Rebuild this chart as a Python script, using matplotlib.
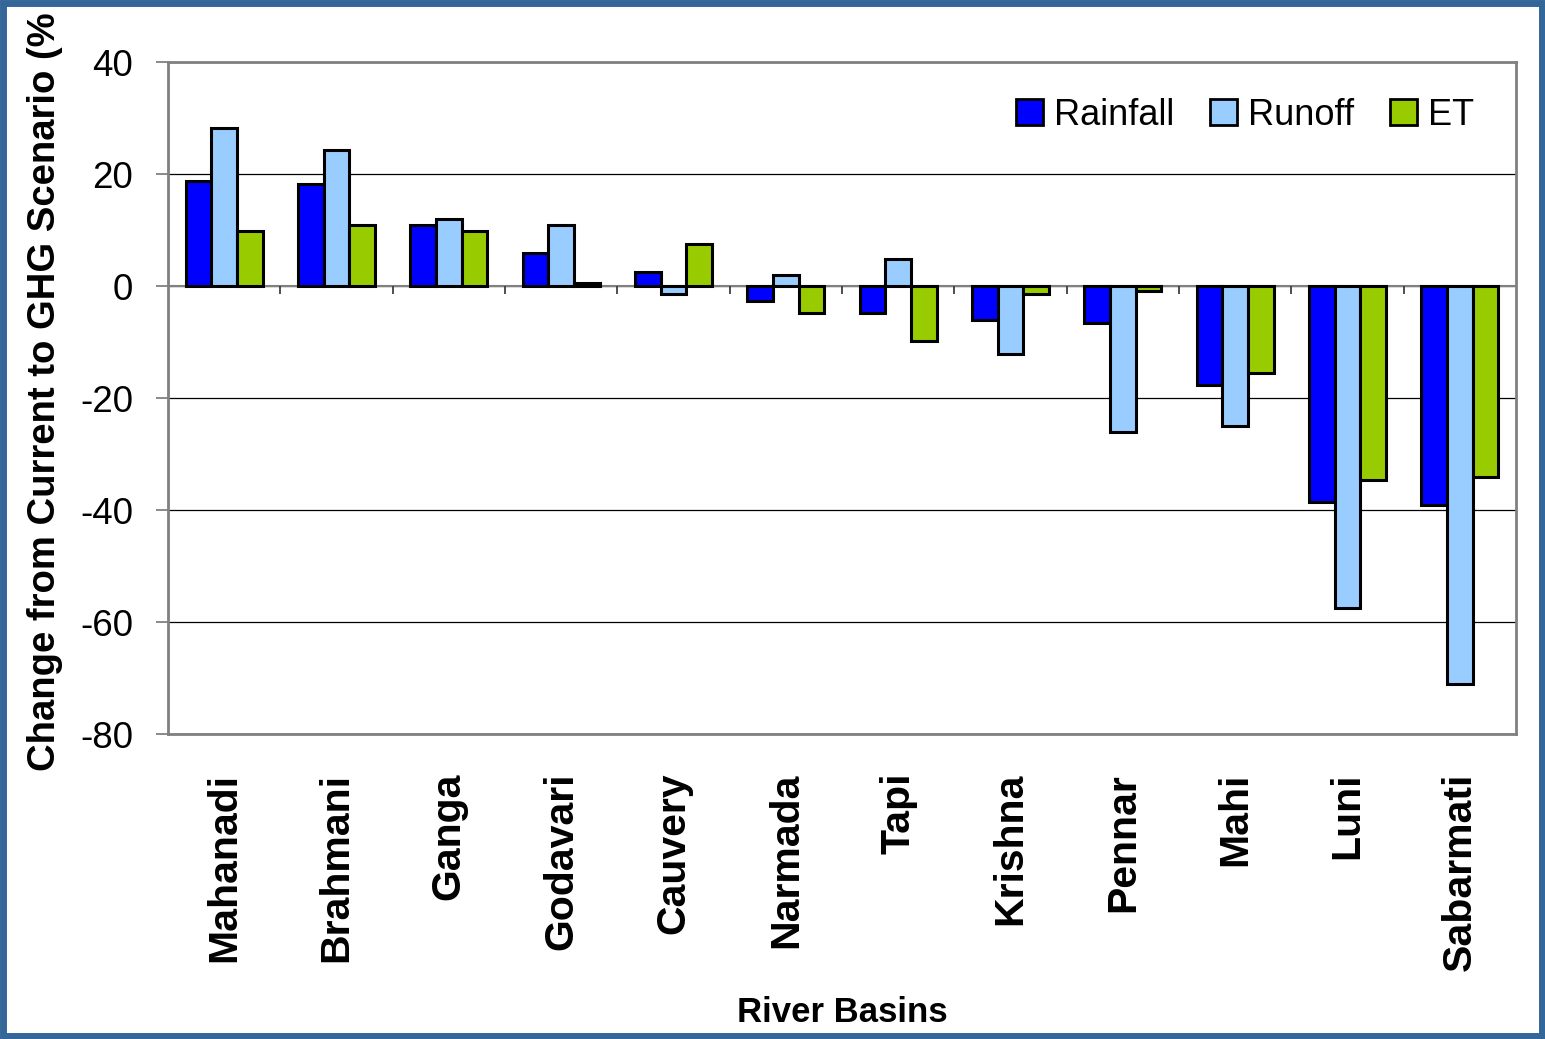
# -*- coding: utf-8 -*-

import numpy as np
import matplotlib
matplotlib.use("Agg")
import matplotlib.pyplot as plt
from matplotlib.patches import Rectangle

plt.rcParams["font.family"] = ["Liberation Sans", "DejaVu Sans"]
plt.rcParams["axes.unicode_minus"] = False

# Values (percent change)
basins = ["Mahanadi", "Brahmani", "Ganga", "Godavari", "Cauvery", "Narmada",
          "Tapi", "Krishna", "Pennar", "Mahi", "Luni", "Sabarmati"]
rainfall = [18.7, 18.2, 10.9, 5.9, 2.5, -2.7, -4.8, -6.1, -6.6, -17.7, -38.6, -39.1]
runoff = [28.2, 24.3, 12.0, 10.9, -1.4, 2.0, 4.8, -12.1, -26.1, -25.0, -57.5, -71.1]
et = [9.8, 10.9, 9.8, 0.5, 7.5, -4.8, -9.8, -1.4, -0.9, -15.5, -34.6, -34.1]

series_names = ["Rainfall", "Runoff", "ET"]
series_colors = ["#0000FF", "#99CCFF", "#99CC00"]
y_ticks = [40, 20, 0, -20, -40, -60, -80]

fig = plt.figure(figsize=(15.45, 10.39), dpi=100)
ax = fig.add_axes([168 / 1545, 1 - 734 / 1039, (1516 - 168) / 1545, (734 - 62) / 1039])

x = np.arange(len(basins))
bar_w = 0.229
for k, (vals, name, col) in enumerate(zip([rainfall, runoff, et], series_names, series_colors)):
    ax.bar(x + (k - 1) * bar_w, vals, bar_w, color=col, edgecolor="black",
           linewidth=2.2, label=name, zorder=3)

ax.set_xlim(-0.5, len(basins) - 0.5)
ax.set_ylim(-80, 40)
ax.set_yticks(y_ticks)
ax.yaxis.grid(True, color="black", linewidth=0.9, zorder=0)
ax.set_axisbelow(True)

# zero line with category separators
ax.axhline(0, color="#808080", linewidth=1.5, zorder=2)
ax.vlines(x[:-1] + 0.5, -1.5, 0, color="#404040", linewidth=1.3, zorder=2)

for s in ax.spines.values():
    s.set_color("#808080")
    s.set_linewidth(2)

ax.tick_params(axis="y", labelsize=26.5, length=9, width=1.3, color="#808080", pad=16)
ax.set_xticks(x)
ax.set_xticklabels(basins, rotation=90, fontsize=29.5, fontweight="bold")
ax.tick_params(axis="x", length=0, pad=28)

ax.set_ylabel("Change from Current to GHG Scenario (%", fontsize=27.5, fontweight="bold")
ax.yaxis.set_label_coords(-0.078, 0.51)
ax.set_xlabel("River Basins", fontsize=25, fontweight="bold", labelpad=18)

leg = ax.legend(loc="upper right", ncol=3, frameon=False, fontsize=26,
                handlelength=0.75, handleheight=0.75, handletextpad=0.3,
                columnspacing=1.0, bbox_to_anchor=(0.993, 0.995))
for h in leg.legend_handles:
    h.set_linewidth(2)

# figure border
fig.patches.append(Rectangle((0.002, 0.003), 0.996, 0.994, transform=fig.transFigure,
                             fill=False, edgecolor="#336699", linewidth=5))

fig.savefig("out.png", dpi=100)
